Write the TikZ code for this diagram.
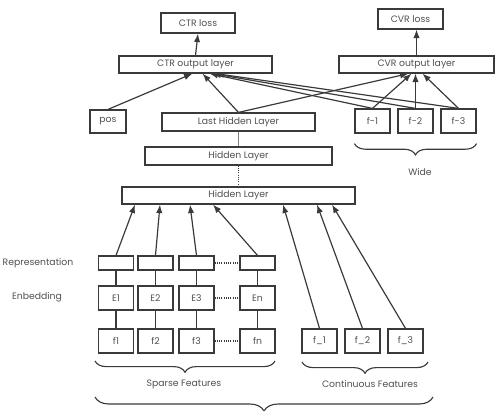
\documentclass[tikz,border=0pt]{standalone}
\usepackage{fontspec}
\setmainfont{Poppins}
\definecolor{linegray}{RGB}{58,58,58}
\definecolor{textgray}{RGB}{80,80,80}
\usetikzlibrary{arrows.meta,calc,decorations.pathreplacing}
\def\pxu{0.025cm}

\begin{document}
\begin{tikzpicture}[x=0.025cm, y=-0.025cm, >={Latex[length=6pt,width=4.5pt]}, line width=0.85pt, draw=linegray,
    box/.style={draw=linegray, line width=0.85pt, inner sep=0pt, text=textgray, font=\fontsize{6.6}{7}\selectfont},
    bx/.style 2 args={box, minimum width=#1*\pxu, minimum height=#2*\pxu},
    lbl/.style={text=textgray, font=\fontsize{6.6}{7}\selectfont},
    dots/.style={draw=linegray, line width=0.75pt, dash pattern=on 0.7pt off 0.9pt},
    brc/.style={draw=linegray, line width=0.8pt, decorate, decoration={brace, mirror, amplitude=#1}},
    brc/.default=8pt]
    \useasboundingbox (0,0) rectangle (496,411);
    \clip (0,0) rectangle (496,411);
    % outputs
    \node[bx={74}{20}] (ctrloss) at (198,23) {CTR loss};
    \node[bx={153}{17}] (ctrout) at (195.5,64.5) {CTR output layer};
    \node[bx={65}{20}] (cvrloss) at (410.5,19) {CVR loss};
    \node[bx={155}{17}] (cvrout) at (416.5,64.5) {CVR output layer};
    \draw[->] (ctrout.north) -- (ctrloss.south);
    \draw[->] (cvrout.north) -- (cvrout.north |- cvrloss.south);
    % deep part
    \node[bx={36}{23}] (pos) at (108,121.5) {pos};
    \node[bx={153}{18}] (lhl) at (238.5,122) {Last Hidden Layer};
    \node[bx={187}{18}] (hid1) at (238.5,156) {Hidden Layer};
    \node[bx={233}{17}] (hid2) at (238.5,195.5) {Hidden Layer};
    \draw[line width=0.5pt, draw=gray] (lhl) -- (hid1);
    \draw[dots] (hid1) -- (hid2);
    % wide part
    \foreach \i/\x in {1/372.5,2/415.5,3/458.5}
      \node[bx={35}{24}] (w\i) at (\x,121) {f-\i};
    \draw[brc] (w1.south west) ++(0,10) coordinate (wl) -- (w3.south east |- wl);
    \node[lbl] (wide) at (420,172) {Wide};
    % top connections
    \draw[->] (pos.north) -- ($(ctrout.south)+(-3,0)$);
    \draw[->] (lhl.north) -- ($(ctrout.south)+(7,0)$);
    \foreach \i/\d in {1/14,2/17,3/20}
      \draw[->] (w\i.north) -- ($(ctrout.south)+(\d,0)$);
    \draw[->] (lhl.north) -- ($(cvrout.south)+(-8,0)$);
    \foreach \i/\d in {1/-5,2/-1,3/6}
      \draw[->] (w\i.north) -- ($(cvrout.south)+(\d,0)$);
    % sparse features
    \foreach \i/\x/\n in {1/116/1,2/155.5/2,3/196.5/3,4/257.5/n} {
      \node[bx={35}{14}] (r\i) at (\x,263) {};
      \node[bx={35}{24}] (e\i) at (\x,298) {E\n};
      \node[bx={35}{24}] (s\i) at (\x,341) {f\n};
      \draw (r\i) -- (e\i);
      \draw (e\i) -- (s\i);
    }
    \draw[dots] (r3) -- (r4);
    \draw[dots] (e3) -- (e4);
    \draw[dots] (s3) -- (s4);
    \foreach \i/\d in {1/-103.5,2/-78.5,3/-48.5,4/-25.5}
      \draw[->] (r\i.north) -- ($(hid2.south)+(\d,0)$);
    \node[lbl] (repl) at (38,263) {Representation};
    \node[lbl] (embl) at (37,297) {Enbedding};
    % continuous features
    \foreach \i/\x in {1/319.5,2/362.5,3/405.5}
      \node[bx={35}{24}] (c\i) at (\x,341) {f\_\i};
    \foreach \i/\d in {1/44.5,2/78.5,3/93.5}
      \draw[->] (c\i.north) -- ($(hid2.south)+(\d,0)$);
    % braces
    \draw[brc] (95,361) -- (275,361);
    \node[lbl] (sparse) at (184,384) {Sparse Features};
    \draw[brc] (302,362) -- (428,362);
    \node[lbl] (cont) at (370,384) {Continuous Features};
    \draw[brc=10pt] (95,397) -- (433,397);
\end{tikzpicture}
\end{document}
